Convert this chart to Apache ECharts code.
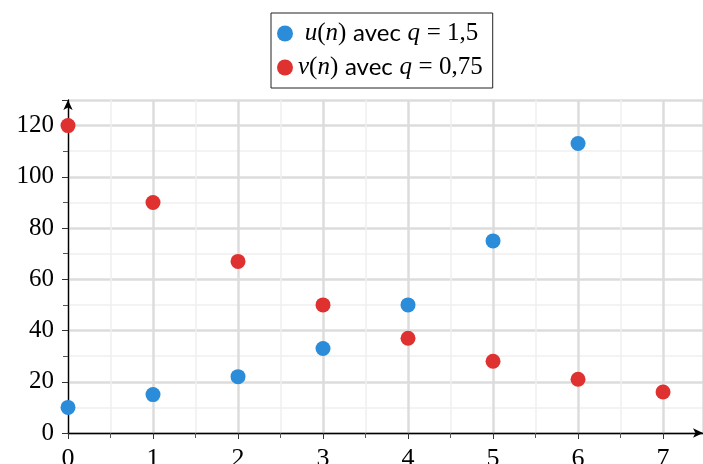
<!DOCTYPE html>
<html><head><meta charset="utf-8">
<script src="https://cdn.jsdelivr.net/npm/echarts@6/dist/echarts.min.js"></script>
<style>html,body{margin:0;padding:0;background:#fff}#c{width:703px;height:464px}</style>
</head><body><div id="c"></div>
<script>
const nValues = [0,1,2,3,4,5,6,7];
const uValues = [10,15,22,33,50,75,113];
const vValues = [120,90,67,50,37,28,21,16];
const uName = 'u';
const vName = 'v';
const xTicks = [0,1,2,3,4,5,6,7];
const yTicks = [0,20,40,60,80,100,120];

const FONT = 'Liberation Serif';
const chart = echarts.init(document.getElementById('c'), null, {renderer:'canvas'});
const rich = {
  i:{fontFamily:FONT,fontStyle:'italic',fontSize:25,color:'#000'},
  t:{fontFamily:'Lato',fontSize:24,color:'#000'},
  m:{fontFamily:FONT,fontSize:25,color:'#000'}
};
chart.setOption({
  animation:false,
  legend:{
    orient:'vertical', left:271, top:13,
    padding:[8,10,8,6],
    borderColor:'#222', borderWidth:1, backgroundColor:'#fff',
    itemWidth:16, itemHeight:16, itemGap:9, icon:'circle',
    data:[uName,vName],
    formatter:function(n){
      if(n===uName) return ' {i|u}{m|(}{i|n}{m|)} {t|avec} {i|q} {m|= 1,5}';
      return '{i|v}{m|(}{i|n}{m|)} {t|avec} {i|q} {m|= 0,75}';
    },
    textStyle:{rich:rich, fontSize:24, lineHeight:24}
  },
  grid:{left:68, right:0, top:100, bottom:31, containLabel:false, outerBoundsMode:'none'},
  xAxis:{
    type:'value', min:0, max:7.47, interval:1,
    axisLine:{lineStyle:{color:'#000',width:1.3}, symbol:['none','arrow'], symbolSize:[7,10]},
    axisTick:{show:true,length:6,lineStyle:{color:'#333'}},
    minorTick:{show:true,splitNumber:2,length:5,lineStyle:{color:'#555'}},
    splitLine:{show:true,lineStyle:{color:'#dcdcdc',width:2.5}},
    minorSplitLine:{show:true,lineStyle:{color:'#f0f0f0',width:1.5}},
    axisLabel:{fontFamily:FONT,fontSize:26,color:'#000',margin:13,
      formatter:function(v){return xTicks.indexOf(v)>=0?String(v):'';}}
  },
  yAxis:{
    type:'value', min:0, max:130, interval:20,
    axisLine:{show:true,lineStyle:{color:'#000',width:1.3}, symbol:['none','arrow'], symbolSize:[7,10]},
    axisTick:{show:true,length:6,lineStyle:{color:'#333'}},
    minorTick:{show:true,splitNumber:2,length:5,lineStyle:{color:'#555'}},
    splitLine:{show:true,lineStyle:{color:'#dcdcdc',width:2.5}},
    minorSplitLine:{show:true,lineStyle:{color:'#f0f0f0',width:1.5}},
    axisLabel:{fontFamily:FONT,fontSize:25,color:'#000',margin:14,
      formatter:function(v){return yTicks.indexOf(v)>=0?String(v):'';}}
  },
  series:[
    {name:uName,type:'scatter',symbolSize:15,clip:false,z:5,
     itemStyle:{color:'#2b8cd9',opacity:1},
     data:uValues.map((v,i)=>[nValues[i],v])},
    {name:vName,type:'scatter',symbolSize:15,clip:false,z:5,
     itemStyle:{color:'#e03131',opacity:1},
     data:vValues.map((v,i)=>[nValues[i],v])}
  ]
});
</script></body></html>
